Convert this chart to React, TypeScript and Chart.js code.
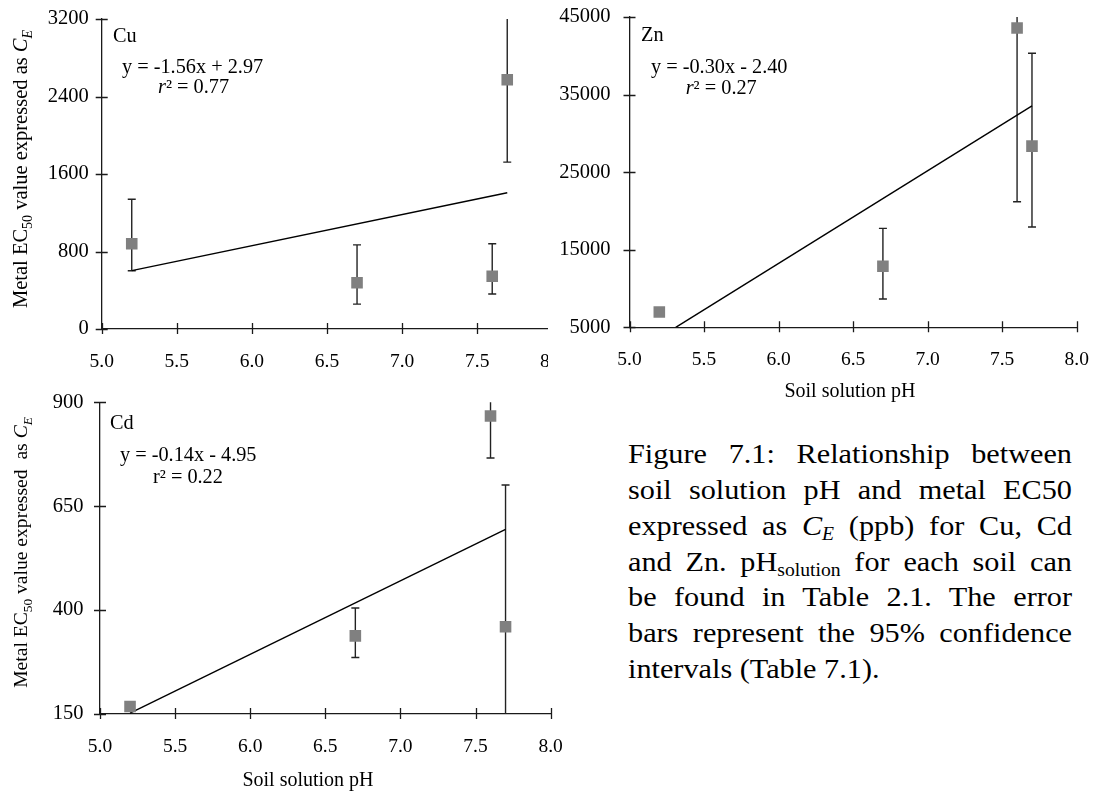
import React, { useEffect, useRef } from "react";
import { Chart, registerables } from "chart.js";
Chart.register(...registerables);

const FONT = "'Liberation Serif', 'Times New Roman', serif";

// ---------- data ----------
const phTicks = [5.0, 5.5, 6.0, 6.5, 7.0, 7.5, 8.0];
const soilPH = [5.2, 6.7, 7.6, 7.7];

// Cu
const cuEC50 = [880, 478, 544, 2573];
const cuLow = [602, 257, 361, 1723];
const cuHigh = [1339, 868, 880, 3420];
const cuTrendPH = [5.2, 7.7];
const cuTrend = [602, 1407];
const cuYTicks = [0, 800, 1600, 2400, 3200];

// Zn
const znEC50 = [6970, 12860, 43590, 28350];
const znLow = [6800, 8650, 21180, 17920];
const znHigh = [7150, 17750, 66000, 40330];
const znTrendPH = [5.31, 7.7];
const znTrend = [5000, 33540];
const znYTicks = [5000, 15000, 25000, 35000, 45000];

// Cd
const cdEC50 = [168, 338, 867, 360];
const cdLow = [163, 286, 766, 20];
const cdHigh = [173, 405, 968, 701];
const cdTrendPH = [5.2, 7.7];
const cdTrend = [152, 594];
const cdYTicks = [150, 400, 650, 900];

type Seg = { t: string; italic?: boolean; sub?: boolean };

const yTitleCu: Seg[] = [
  { t: "Metal EC" },
  { t: "50", sub: true },
  { t: " value expressed as " },
  { t: "C", italic: true },
  { t: "E", italic: true, sub: true },
];
const yTitleCd: Seg[] = [
  { t: "Metal EC" },
  { t: "50", sub: true },
  { t: " value expressed  as " },
  { t: "C", italic: true },
  { t: "E", italic: true, sub: true },
];

interface Spec {
  low: number[];
  high: number[];
  ec50: number[];
  trendPH: number[];
  trend: number[];
  yTicks: number[];
  metal: string;
  equation: string;
  r2: string;
  r2Italic: boolean;
  yTitle: Seg[] | null;
  yTitlePos: [number, number];
  yTitleSize: number;
  xTitle: string | null;
  xTitlePos: [number, number];
  box: { left: number; top: number; width: number; height: number; clip?: number };
  area: { left: number; top: number; right: number; bottom: number };
  yPad: number;
  notes: { metal: [number, number]; eq: [number, number]; r2: [number, number] };
}

const specs: Spec[] = [
  {
    ec50: cuEC50, low: cuLow, high: cuHigh, trendPH: cuTrendPH, trend: cuTrend, yTicks: cuYTicks,
    metal: "Cu", equation: "y = -1.56x + 2.97", r2: "\u00b2 = 0.77", r2Italic: true,
    yTitle: yTitleCu, yTitlePos: [27.3, 169], yTitleSize: 20.5, xTitle: null, xTitlePos: [0, 0],
    box: { left: 0, top: 0, width: 575, height: 385, clip: 548 },
    area: { left: 101.7, top: 19, right: 552.3, bottom: 329 },
    yPad: 13,
    notes: { metal: [11.3, 23], eq: [20.3, 53.7], r2: [56.3, 74.3] },
  },
  {
    ec50: znEC50, low: znLow, high: znHigh, trendPH: znTrendPH, trend: znTrend, yTicks: znYTicks,
    metal: "Zn", equation: "y = -0.30x - 2.40", r2: "\u00b2 = 0.27", r2Italic: true,
    yTitle: null, yTitlePos: [0, 0], yTitleSize: 20, xTitle: "Soil solution pH", xTitlePos: [302, 392],
    box: { left: 548, top: 0, width: 555, height: 410 },
    area: { left: 81.5, top: 17, right: 528.7, bottom: 327.3 },
    yPad: 19,
    notes: { metal: [11.5, 23.7], eq: [21.5, 55.7], r2: [56.2, 77.3] },
  },
  {
    ec50: cdEC50, low: cdLow, high: cdHigh, trendPH: cdTrendPH, trend: cdTrend, yTicks: cdYTicks,
    metal: "Cd", equation: "y = -0.14x - 4.95", r2: "r\u00b2 = 0.22", r2Italic: false,
    yTitle: yTitleCd, yTitlePos: [27.3, 162.5], yTitleSize: 19.6, xTitle: "Soil solution pH", xTitlePos: [308, 391],
    box: { left: 0, top: 390, width: 575, height: 406 },
    area: { left: 100, top: 12.3, right: 550.6, bottom: 324 },
    yPad: 16.5,
    notes: { metal: [10, 27], eq: [20, 58.7], r2: [53, 80.4] },
  },
];

const AXIS = "#1a1a1a";

function drawSegs(ctx: CanvasRenderingContext2D, segs: Seg[], size: number, subSize: number, subDrop: number) {
  const fontOf = (s: Seg) => `${s.italic ? "italic " : ""}${s.sub ? subSize : size}px ${FONT}`;
  let total = 0;
  for (const s of segs) {
    ctx.font = fontOf(s);
    total += ctx.measureText(s.t).width;
  }
  let x = -total / 2;
  for (const s of segs) {
    ctx.font = fontOf(s);
    ctx.fillText(s.t, x, s.sub ? subDrop : 0);
    x += ctx.measureText(s.t).width;
  }
}

function makePlugin(spec: Spec) {
  return {
    id: "panelDecor",
    beforeDatasetsDraw(chart: any) {
      const ctx: CanvasRenderingContext2D = chart.ctx;
      const xs = chart.scales.x;
      const ys = chart.scales.y;
      const a = chart.chartArea;
      ctx.save();
      ctx.beginPath();
      ctx.rect(a.left, a.top, a.right - a.left, a.bottom - a.top);
      ctx.clip();
      ctx.strokeStyle = "#222";
      ctx.lineWidth = 1.4;
      for (let i = 0; i < soilPH.length; i++) {
        const px = xs.getPixelForValue(soilPH[i]);
        const y1 = ys.getPixelForValue(spec.low[i]);
        const y2 = ys.getPixelForValue(spec.high[i]);
        ctx.beginPath();
        ctx.moveTo(px, y1);
        ctx.lineTo(px, y2);
        ctx.moveTo(px - 4, y1);
        ctx.lineTo(px + 4, y1);
        ctx.moveTo(px - 4, y2);
        ctx.lineTo(px + 4, y2);
        ctx.stroke();
      }
      ctx.restore();
    },
    afterDraw(chart: any) {
      const ctx: CanvasRenderingContext2D = chart.ctx;
      const xs = chart.scales.x;
      const ys = chart.scales.y;
      const a = chart.chartArea;
      ctx.save();
      // cross tick marks
      ctx.strokeStyle = AXIS;
      ctx.lineWidth = 1.3;
      ctx.beginPath();
      for (const v of phTicks) {
        const px = Math.round(xs.getPixelForValue(v)) + 0.5;
        ctx.moveTo(px, a.bottom - 6);
        ctx.lineTo(px, a.bottom + 5);
      }
      for (const v of spec.yTicks) {
        const py = Math.round(ys.getPixelForValue(v)) + 0.5;
        ctx.moveTo(a.left - 6, py);
        ctx.lineTo(a.left + 6, py);
      }
      ctx.stroke();

      // annotations
      const AS = 20.3;
      ctx.fillStyle = "#000";
      ctx.textAlign = "left";
      ctx.textBaseline = "alphabetic";
      ctx.font = `${AS}px ${FONT}`;
      ctx.fillText(spec.metal, a.left + spec.notes.metal[0], a.top + spec.notes.metal[1]);
      ctx.fillText(spec.equation, a.left + spec.notes.eq[0], a.top + spec.notes.eq[1]);
      let rx = a.left + spec.notes.r2[0];
      const ry = a.top + spec.notes.r2[1];
      if (spec.r2Italic) {
        ctx.font = `italic ${AS}px ${FONT}`;
        ctx.fillText("r", rx, ry);
        rx += ctx.measureText("r").width;
        ctx.font = `${AS}px ${FONT}`;
      }
      ctx.fillText(spec.r2, rx, ry);

      // y title
      if (spec.yTitle) {
        ctx.save();
        ctx.translate(spec.yTitlePos[0], spec.yTitlePos[1]);
        ctx.rotate(-Math.PI / 2);
        drawSegs(ctx, spec.yTitle, spec.yTitleSize, spec.yTitleSize * 0.68, 4.5);
        ctx.restore();
      }
      // x title
      if (spec.xTitle) {
        ctx.font = `20px ${FONT}`;
        ctx.textAlign = "center";
        ctx.textBaseline = "middle";
        ctx.fillText(spec.xTitle, spec.xTitlePos[0], spec.xTitlePos[1]);
      }
      ctx.restore();
    },
  };
}

const noPad = (s: any) => {
  s.paddingLeft = 0;
  s.paddingRight = 0;
  s.paddingTop = 0;
  s.paddingBottom = 0;
};

function Panel({ spec }: { spec: Spec }) {
  const ref = useRef<HTMLCanvasElement | null>(null);
  useEffect(() => {
    const canvas = ref.current;
    if (!canvas) return;
    const { box, area } = spec;
    const chart = new Chart(canvas, {
      type: "scatter",
      data: {
        datasets: [
          {
            data: soilPH.map((x, i) => ({ x, y: spec.ec50[i] })),
            pointStyle: "rect",
            pointRadius: 8.2,
            pointHoverRadius: 8.2,
            backgroundColor: "#808080",
            borderWidth: 0,
            showLine: false,
          } as any,
          {
            data: spec.trendPH.map((x, i) => ({ x, y: spec.trend[i] })),
            showLine: true,
            borderColor: "#000",
            borderWidth: 1.4,
            pointRadius: 0,
            fill: false,
          } as any,
        ],
      },
      options: {
        responsive: false,
        animation: false,
        events: [],
        layout: { padding: { left: 0, top: area.top, right: box.width - area.right, bottom: 0 } },
        plugins: { legend: { display: false }, tooltip: { enabled: false } },
        scales: {
          x: {
            type: "linear",
            min: phTicks[0],
            max: phTicks[phTicks.length - 1],
            afterBuildTicks: (s: any) => {
              s.ticks = phTicks.map((v) => ({ value: v }));
            },
            afterFit: (s: any) => {
              s.height = box.height - area.bottom;
              noPad(s);
            },
            grid: { display: false, drawTicks: false },
            border: { display: true, color: AXIS, width: 1.3 },
            ticks: {
              font: { family: FONT, size: 19.5 },
              color: "#000",
              padding: 21,
              maxRotation: 0,
              autoSkip: false,
              callback: (v: any) => Number(v).toFixed(1),
            },
          },
          y: {
            type: "linear",
            min: spec.yTicks[0],
            max: spec.yTicks[spec.yTicks.length - 1],
            afterBuildTicks: (s: any) => {
              s.ticks = spec.yTicks.map((v) => ({ value: v }));
            },
            afterFit: (s: any) => {
              s.width = area.left;
              noPad(s);
            },
            grid: { display: false, drawTicks: false },
            border: { display: true, color: AXIS, width: 1.3 },
            ticks: {
              font: { family: FONT, size: 20.5 },
              color: "#000",
              padding: spec.yPad,
              autoSkip: false,
              callback: (v: any) => String(v),
            },
          },
        },
      } as any,
      plugins: [makePlugin(spec) as any],
    });
    return () => chart.destroy();
  }, [spec]);

  const { box } = spec;
  return (
    <div
      style={{
        position: "absolute",
        left: box.left,
        top: box.top,
        width: box.clip ?? box.width,
        height: box.height,
        overflow: "hidden",
      }}
    >
      <canvas ref={ref} width={box.width} height={box.height} style={{ width: box.width, height: box.height, display: "block" }} />
    </div>
  );
}

const subStyle: React.CSSProperties = { fontSize: "0.65em", verticalAlign: "-0.3em", lineHeight: 0 };
const lineStyle: React.CSSProperties = { height: 35.85, textAlign: "justify", textAlignLast: "justify" as any };
const STRETCH = 1.1;

export default function App() {
  return (
    <div style={{ position: "fixed", left: 0, top: 0, width: 1103, height: 796, background: "#fff", overflow: "hidden" }}>
      {specs.map((s, i) => (
        <Panel key={i} spec={s} />
      ))}
      <div
        style={{
          position: "absolute",
          left: 628,
          top: 436.1,
          width: 444 / STRETCH,
          transform: `scaleX(${STRETCH})`,
          transformOrigin: "0 0",
          fontFamily: FONT,
          fontSize: 27.5,
          lineHeight: "35.85px",
          color: "#000",
        }}
      >
        <div style={lineStyle}>Figure 7.1: Relationship between</div>
        <div style={lineStyle}>soil solution pH and metal EC50</div>
        <div style={lineStyle}>
          expressed as <i>C<sub style={subStyle}>E</sub></i> (ppb) for Cu, Cd
        </div>
        <div style={lineStyle}>
          and Zn. pH<sub style={subStyle}>solution</sub> for each soil can
        </div>
        <div style={lineStyle}>be found in Table 2.1. The error</div>
        <div style={lineStyle}>bars represent the 95% confidence</div>
        <div style={{ height: 35.85 }}>intervals (Table 7.1).</div>
      </div>
    </div>
  );
}
